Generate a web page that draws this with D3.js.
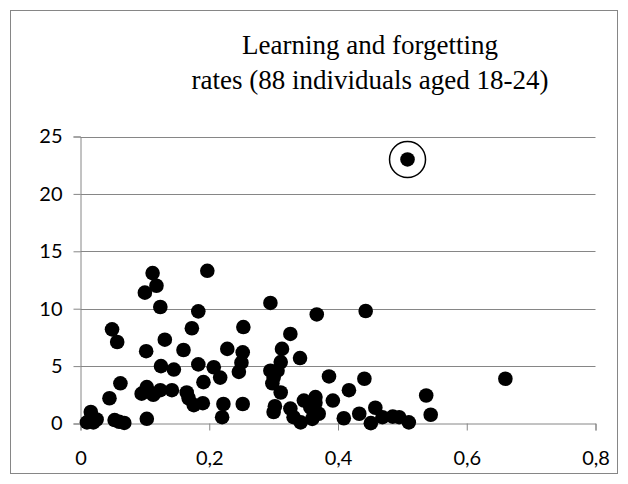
<!DOCTYPE html>
<html><head><meta charset="utf-8">
<script src="https://cdn.jsdelivr.net/npm/d3@7"></script>
<style>body{margin:0;background:#fff}svg{display:block}</style>
</head><body>
<svg id="chart" width="628" height="484"></svg>
<script>
const title = ["Learning and forgetting", "rates (88 individuals aged 18-24)"];
const xTicks = [0, 0.2, 0.4, 0.6, 0.8];
const yTicks = [0, 5, 10, 15, 20, 25];
const learningRate = [0.010,0.016,0.017,0.025,0.020,0.053,0.060,0.068,0.045,0.062,0.049,0.057,
  0.103,0.095,0.103,0.113,0.124,0.142,0.102,0.125,0.145,0.131,0.160,0.100,0.112,0.118,0.124,
  0.197,0.183,0.173,0.165,0.168,0.176,0.190,0.183,0.191,0.207,0.217,0.222,0.220,0.228,0.252,
  0.250,0.246,0.252,0.253,0.295,0.313,0.311,0.306,0.295,0.298,0.300,0.311,0.300,0.326,0.331,
  0.342,0.326,0.341,0.367,0.443,0.386,0.441,0.417,0.392,0.347,0.365,0.357,0.370,0.360,0.409,
  0.433,0.458,0.451,0.469,0.485,0.495,0.510,0.508,0.537,0.544,0.660,0.365,0.362,0.302];
const forgettingRate = [0.1,1.0,0.3,0.35,0.1,0.3,0.15,0.05,2.2,3.5,8.2,7.1,
  0.41,2.6,3.17,2.5,2.9,2.9,6.3,5.0,4.7,7.3,6.4,11.4,13.1,12.0,10.15,
  13.3,9.77,8.3,2.7,2.2,1.6,1.77,5.15,3.6,4.9,4.0,1.7,0.55,6.5,6.2,
  5.3,4.5,1.7,8.4,10.5,6.5,5.35,4.6,4.6,3.5,4.0,2.7,1.0,1.3,0.55,
  0.1,7.8,5.7,9.5,9.8,4.1,3.9,2.9,2.0,2.0,2.3,1.4,0.85,0.4,0.46,
  0.85,1.37,0.03,0.55,0.6,0.55,0.1,23.0,2.44,0.76,3.9,1.8,1.0,1.5];
const outlier = {x: 0.508, y: 23.0};

const svg = d3.select("#chart");
svg.append("rect").attr("x",10.5).attr("y",10.5).attr("width",607).attr("height",463)
  .attr("fill","#fff").attr("stroke","#868686").attr("stroke-width",1);

const x = d3.scaleLinear().domain([0,0.8]).range([80.5,595.5]);
const y = d3.scaleLinear().domain([0,25]).range([423.5,136.5]);

svg.append("g").selectAll("line").data(yTicks.filter(d=>d>0)).join("line")
  .attr("x1",x(0)).attr("x2",x(0.8)).attr("y1",d=>Math.round(y(d))+0.5).attr("y2",d=>Math.round(y(d))+0.5)
  .attr("stroke","#868686").attr("stroke-width",1);

const fontAxis = "Lato, 'Open Sans', sans-serif";
const xAxis = svg.append("g").attr("transform",`translate(0,${y(0)})`)
  .call(d3.axisBottom(x).tickValues(xTicks).tickSize(7).tickPadding(20)
    .tickFormat(d=>d3.format(".1f")(d).replace(".",",").replace(/^0,0$/,"0")));
const yAxis = svg.append("g").attr("transform",`translate(${x(0)},0)`)
  .call(d3.axisLeft(y).tickValues(yTicks).tickSize(7).tickPadding(11));
[xAxis,yAxis].forEach(a=>{
  a.select(".domain").attr("stroke","#868686");
  a.selectAll(".tick line").attr("stroke","#868686");
  a.selectAll("text").attr("fill","#000").attr("font-family",fontAxis).attr("font-size",20);
});

svg.append("g").selectAll("circle").data(d3.range(learningRate.length)).join("circle")
  .attr("cx",i=>x(learningRate[i])).attr("cy",i=>y(forgettingRate[i])).attr("r",7.3).attr("fill","#000");

svg.append("circle").attr("cx",x(outlier.x)).attr("cy",y(outlier.y)).attr("r",18)
  .attr("fill","none").attr("stroke","#000").attr("stroke-width",1.5);

svg.append("g").selectAll("text").data(title).join("text")
  .attr("x",370).attr("y",(d,i)=>54+i*35).attr("text-anchor","middle")
  .attr("font-family","'Liberation Serif', 'Times New Roman', serif").attr("font-size",27)
  .attr("fill","#000").text(d=>d);
</script>
</body></html>
